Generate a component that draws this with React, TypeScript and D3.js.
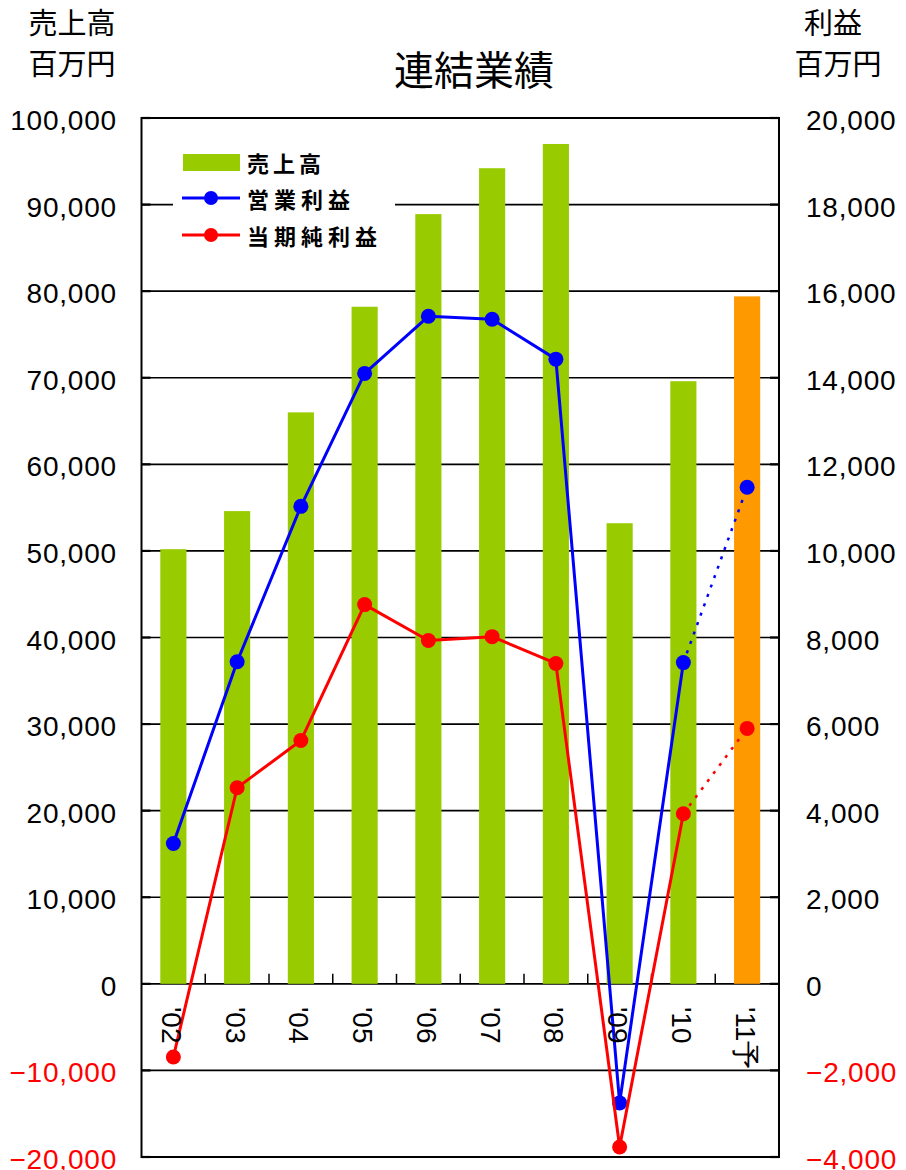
import React from "react";
import * as d3 from "d3";

// 年度
const years = ["'02", "'03", "'04", "'05", "'06", "'07", "'08", "'09", "'10", "'11予"];
// 売上高 (百万円)
const sales = [50200, 54600, 66000, 78200, 88900, 94200, 97000, 53200, 69600, 79400];
// 営業利益 (百万円)
const operatingProfit = [3240, 7440, 11030, 14100, 15420, 15350, 14430, -2750, 7420, 11470];
// 当期純利益 (百万円)
const netProfit = [-1690, 4530, 5620, 8760, 7930, 8020, 7400, -3770, 3930, 5900];

const leftTicks = [-20000, -10000, 0, 10000, 20000, 30000, 40000, 50000, 60000, 70000, 80000, 90000, 100000];
const rightTicks = [-4000, -2000, 0, 2000, 4000, 6000, 8000, 10000, 12000, 14000, 16000, 18000, 20000];

const W = 906;
const H = 1170;
const plot = { left: 141.5, right: 779, top: 118, bottom: 1157 };

const GREEN = "#99cc00";
const ORANGE = "#ff9900";
const BLUE = "#0000ff";
const RED = "#ff0000";
const numFont = "'Liberation Sans', Arial, sans-serif";
const jpFont = "'Noto Sans CJK JP', 'Noto Sans', sans-serif";

const fmt = d3.format(",");

export default function App() {
  const x = d3
    .scaleBand<string>()
    .domain(years)
    .range([plot.left, plot.right])
    .paddingInner(0.59)
    .paddingOuter(0.295);
  const step = x.step();
  const cx = (d: string) => (x(d) as number) + x.bandwidth() / 2;

  const yL = d3.scaleLinear().domain([-20000, 100000]).range([plot.bottom, plot.top]);
  const yR = d3.scaleLinear().domain([-4000, 20000]).range([plot.bottom, plot.top]);

  const line = d3
    .line<[string, number]>()
    .x((d) => cx(d[0]))
    .y((d) => yR(d[1]));

  const last = years.length - 1;
  const pairs = (vals: number[]) => years.map((y, i) => [y, vals[i]] as [string, number]);

  const series = [
    { name: "営業利益", color: BLUE, values: operatingProfit },
    { name: "当期純利益", color: RED, values: netProfit },
  ];

  return (
    <div style={{ position: "absolute", left: 0, top: 0 }}>
      <svg width={W} height={H} style={{ display: "block", background: "#fff" }}>
        {/* gridlines */}
        {leftTicks.map((t) => (
          <line
            key={"g" + t}
            x1={plot.left}
            x2={plot.right}
            y1={yL(t)}
            y2={yL(t)}
            stroke="#000"
            strokeWidth={1.6}
          />
        ))}

        {/* bars */}
        {years.map((d, i) => (
          <rect
            key={"b" + d}
            x={x(d)}
            width={x.bandwidth()}
            y={yL(sales[i])}
            height={yL(0) - yL(sales[i])}
            fill={i === last ? ORANGE : GREEN}
          />
        ))}

        {/* category ticks on zero line */}
        {years.slice(1).map((d) => {
          const tx = cx(d) - step / 2;
          return <line key={"ct" + d} x1={tx} x2={tx} y1={yL(0)} y2={yL(0) - 10} stroke="#000" strokeWidth={1.5} />;
        })}

        {/* axis ticks */}
        {leftTicks.map((t) => (
          <line key={"lt" + t} x1={plot.left} x2={plot.left + 9} y1={yL(t)} y2={yL(t)} stroke="#000" strokeWidth={2.2} />
        ))}
        {rightTicks.map((t) => (
          <line key={"rt" + t} x1={plot.right - 9} x2={plot.right} y1={yR(t)} y2={yR(t)} stroke="#000" strokeWidth={2.2} />
        ))}

        {/* plot border */}
        <rect
          x={plot.left}
          y={plot.top}
          width={plot.right - plot.left}
          height={plot.bottom - plot.top}
          fill="none"
          stroke="#000"
          strokeWidth={2}
        />

        {/* legend */}
        <g>
          <rect x={173} y={142} width={222} height={106} fill="#fff" />
          <rect x={183} y={154} width={57} height={17} fill={GREEN} />
          <text x={247} y={162} dominantBaseline="central" fontFamily={jpFont} fontWeight="bold" fontSize={22} letterSpacing={4}>
            売上高
          </text>
          {series.map((s, i) => {
            const ly = 198 + i * 37;
            return (
              <g key={"lg" + s.name}>
                <line x1={182} x2={240} y1={ly} y2={ly} stroke={s.color} strokeWidth={3} />
                <circle cx={211} cy={ly} r={7} fill={s.color} />
                <text x={247} y={ly} dominantBaseline="central" fontFamily={jpFont} fontWeight="bold" fontSize={22} letterSpacing={5}>
                  {s.name}
                </text>
              </g>
            );
          })}
        </g>

        {/* profit lines */}
        {series.map((s) => {
          const p = pairs(s.values);
          return (
            <g key={"s" + s.name}>
              <path d={line(p.slice(0, last)) || ""} fill="none" stroke={s.color} strokeWidth={3} strokeLinejoin="round" />
              <path
                d={line(p.slice(last - 1)) || ""}
                fill="none"
                stroke={s.color}
                strokeWidth={2.5}
                strokeDasharray="3,7"
              />
              {p.map((d) => (
                <circle key={d[0]} cx={cx(d[0])} cy={yR(d[1])} r={7.5} fill={s.color} />
              ))}
            </g>
          );
        })}

        {/* left axis labels */}
        {leftTicks.map((t) => (
          <text
            key={"ll" + t}
            x={117}
            y={yL(t) + 12}
            textAnchor="end"
            fontFamily={numFont}
            fontSize={28}
            letterSpacing={0.8}
            fill={t < 0 ? RED : "#000"}
          >
            {fmt(t)}
          </text>
        ))}
        {/* right axis labels */}
        {rightTicks.map((t) => (
          <text
            key={"rl" + t}
            x={806}
            y={yR(t) + 12}
            textAnchor="start"
            fontFamily={numFont}
            fontSize={28}
            letterSpacing={0.8}
            fill={t < 0 ? RED : "#000"}
          >
            {fmt(t)}
          </text>
        ))}

        {/* category labels, rotated */}
        {years.map((d) => (
          <text
            key={"xl" + d}
            transform={`translate(${cx(d) - 2},${1007}) rotate(90)`}
            dominantBaseline="central"
            fontFamily={numFont}
            fontSize={28}
          >
            {d}
          </text>
        ))}

        {/* titles */}
        <text x={474} y={85} textAnchor="middle" fontFamily={jpFont} fontSize={40}>
          連結業績
        </text>
        <text x={72} y={34} textAnchor="middle" fontFamily={jpFont} fontSize={29}>
          売上高
        </text>
        <text x={72} y={75} textAnchor="middle" fontFamily={jpFont} fontSize={29}>
          百万円
        </text>
        <text x={833} y={34} textAnchor="middle" fontFamily={jpFont} fontSize={29}>
          利益
        </text>
        <text x={838} y={75} textAnchor="middle" fontFamily={jpFont} fontSize={29}>
          百万円
        </text>
      </svg>
    </div>
  );
}
